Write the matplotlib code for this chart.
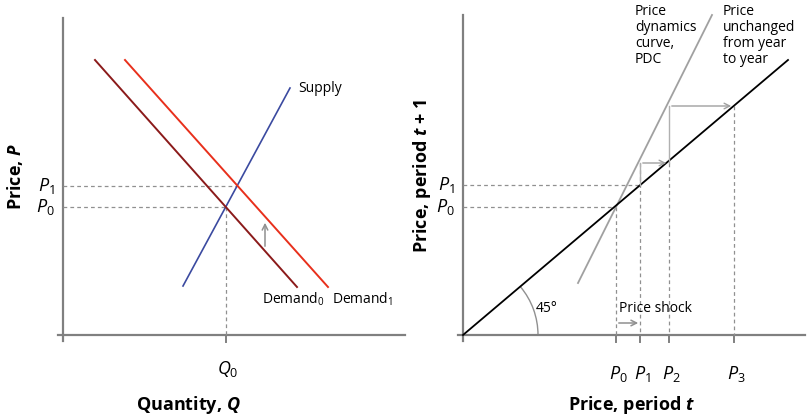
import matplotlib
matplotlib.use('Agg')
from matplotlib import pyplot as plt
from matplotlib.patches import Arc
import numpy as np

plt.rcParams['font.family'] = ['Open Sans', 'DejaVu Sans']
plt.rcParams['mathtext.fontset'] = 'custom'
plt.rcParams['mathtext.rm'] = 'Open Sans'
plt.rcParams['mathtext.it'] = 'Open Sans:italic'
plt.rcParams['mathtext.bf'] = 'Open Sans:bold'
plt.rcParams['mathtext.bfit'] = 'Open Sans:italic:bold'

# geometry in pixel units of the original picture (y grows downward)
# left panel: supply and demand
supplyX = [183, 290]
supplyY = [286, 88]
demand0X = [95, 297]
demand0Y = [60, 287]
demand1X = [125, 328]
demand1Y = [60, 287]
leftP = {'1': 186, '0': 207}
leftQ0 = 226
# right panel: price dynamics
diagX = [463, 788]
diagY = [335, 60]
pdcX = [578, 712]
pdcY = [283, 15]
priceX = {'0': 616, '1': 640, '2': 669, '3': 734}
rightP = {'1': 185, '0': 207}
stepY = [163, 106]

fig = plt.figure(figsize=(8.09, 4.2), dpi=100)
ax = fig.add_axes([0, 0, 1, 1])
ax.set_xlim(0, 809)
ax.set_ylim(420, 0)
ax.axis('off')

axisCol = '#808080'
gray = '#909090'
dash = dict(color=gray, lw=0.9, ls=(0, (3, 2.5)))

# axes
for x0, x1 in [(63, 405), (463, 805)]:
    ax.plot([x0 - 5, x1], [335, 335], color=axisCol, lw=1.6)
ax.plot([63, 63], [18, 341], color=axisCol, lw=1.6)
ax.plot([463, 463], [15, 341], color=axisCol, lw=1.6)
ax.plot([leftQ0, leftQ0], [335, 342], color=axisCol, lw=1.4)
for x in priceX.values():
    ax.plot([x, x], [335, 342], color=axisCol, lw=1.4)

# left panel
for sub, y in leftP.items():
    xe = np.interp(y, supplyY[::-1], supplyX[::-1])
    ax.plot([63, xe], [y, y], **dash)
    ax.text(55, y, r'$\it{P}_{%s}$' % sub, fontsize=13, ha='right', va='center')
ax.plot([leftQ0, leftQ0], [207, 335], **dash)
ax.plot(supplyX, supplyY, color='#3b4aa0', lw=1.2)
ax.plot(demand0X, demand0Y, color='#8b1a1a', lw=1.4)
ax.plot(demand1X, demand1Y, color='#e8301c', lw=1.4)
ax.annotate('', xy=(265, 220), xytext=(265, 249),
            arrowprops=dict(arrowstyle='->', color=gray, lw=1.1))
ax.text(298, 89, 'Supply', fontsize=10, va='center')
ax.text(262, 299, r'Demand$_0$', fontsize=10, va='center')
ax.text(332, 299, r'Demand$_1$', fontsize=10, va='center')
ax.text(228, 369, r'$\it{Q}_0$', fontsize=13, ha='center', va='center')
ax.text(188, 405, r'Quantity, $\mathbfit{Q}$', fontsize=13, fontweight='bold', ha='center', va='center')
ax.text(15, 176, r'Price, $\mathbfit{P}$', fontsize=13, fontweight='bold', rotation=90, ha='center', va='center')

# right panel
for sub, y in rightP.items():
    xe = np.interp(-y, [-v for v in diagY], diagX)
    ax.plot([463, xe], [y, y], **dash)
    ax.text(455, y, r'$\it{P}_{%s}$' % sub, fontsize=13, ha='right', va='center')
ax.plot([priceX['0']] * 2, [207, 335], **dash)
ax.plot([priceX['1']] * 2, [163, 335], **dash)
ax.plot([priceX['2']] * 2, [163, 335], **dash)
ax.plot([priceX['3']] * 2, [106, 335], **dash)
ax.plot(pdcX, pdcY, color='#a0a0a0', lw=1.3)
ax.plot(diagX, diagY, color='black', lw=1.3)
ax.plot([priceX['1']] * 2, [185, 163], color='#b0b0b0', lw=1)
ax.plot([priceX['2']] * 2, [163, 106], color='#b0b0b0', lw=1)
for (x0, x1), y in zip([(priceX['1'], priceX['2']), (priceX['2'], priceX['3'])], stepY):
    ax.annotate('', xy=(x1, y), xytext=(x0, y),
                arrowprops=dict(arrowstyle='->', color='#a0a0a0', lw=1))
ax.annotate('', xy=(641, 323), xytext=(616, 323),
            arrowprops=dict(arrowstyle='->', color=gray, lw=1.1))
ax.text(619, 309, 'Price shock', fontsize=10, va='center')
ax.add_patch(Arc((463, 335), 150, 150, theta1=-40, theta2=0, color=gray, lw=1))
ax.text(536, 308, '45°', fontsize=10, va='center')
for sub, x in priceX.items():
    ax.text(x + 2, 374, r'$\it{P}_{%s}$' % sub, fontsize=13, ha='center', va='center')
ax.text(635, 4, 'Price\ndynamics\ncurve,\nPDC', fontsize=10, va='top', linespacing=1.1)
ax.text(723, 4, 'Price\nunchanged\nfrom year\nto year', fontsize=10, va='top', linespacing=1.1)
ax.text(632, 405, r'Price, period $\mathbfit{t}$', fontsize=13, fontweight='bold', ha='center', va='center')
ax.text(422, 176, r'Price, period $\mathbfit{t}$ + 1', fontsize=13, fontweight='bold', rotation=90, ha='center', va='center')

fig.savefig('out.png', dpi=100)
